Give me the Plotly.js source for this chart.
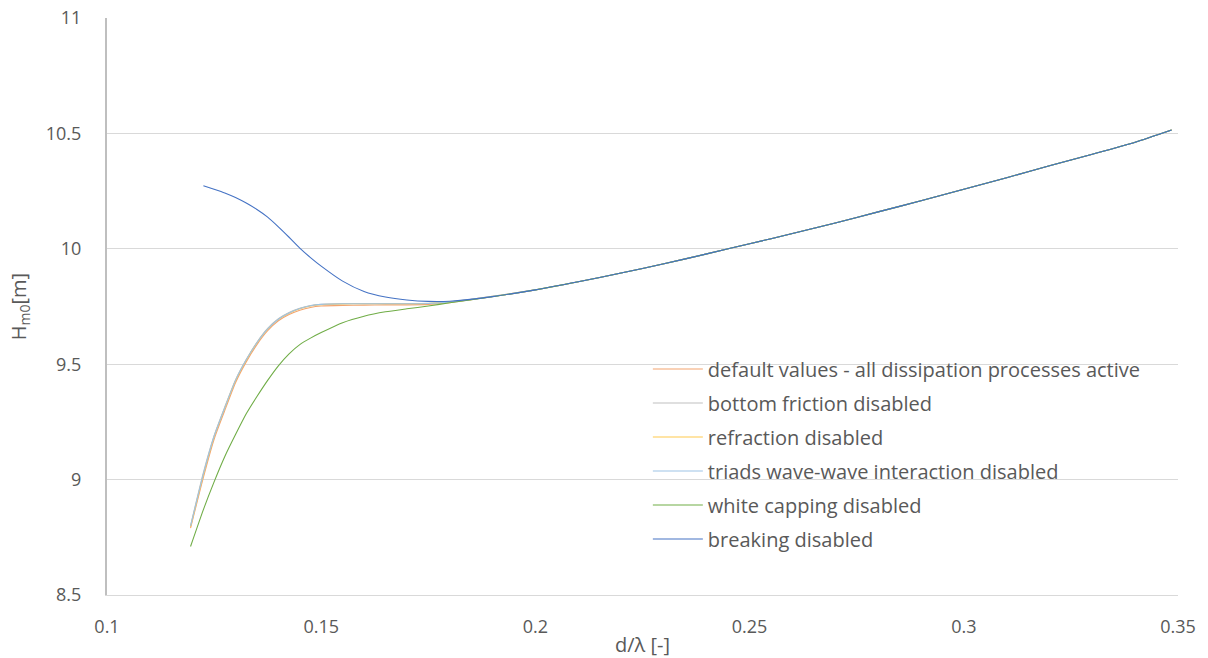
<!DOCTYPE html>
<html>
<head>
<meta charset="utf-8">
<script src="https://cdn.plot.ly/plotly-3.0.1.min.js"></script>
<style>html,body{margin:0;padding:0;background:#fff;}#chart{width:1208px;height:658px;}</style>
</head>
<body>
<div id="chart"></div>
<script>
// shared d/lambda values for the shallow part (rising / falling section)
const xShallow = [0.1195, 0.1225, 0.125, 0.1275, 0.13, 0.1325, 0.135, 0.1375, 0.14, 0.1425, 0.145, 0.1475, 0.15, 0.155, 0.16, 0.165, 0.17, 0.175, 0.18, 0.19];
// common d/lambda values for the deeper part where all curves coincide
const xDeep = [0.2, 0.21, 0.22, 0.23, 0.24, 0.25, 0.26, 0.27, 0.28, 0.29, 0.30, 0.31, 0.32, 0.33, 0.34, 0.3485];
const hDeep = [9.822, 9.857, 9.895, 9.935, 9.978, 10.022, 10.066, 10.112, 10.160, 10.208, 10.258, 10.308, 10.360, 10.410, 10.462, 10.515];

const hDefault   = [8.79, 9.01, 9.175, 9.30, 9.42, 9.51, 9.585, 9.645, 9.688, 9.715, 9.734, 9.746, 9.752, 9.755, 9.756, 9.757, 9.757, 9.759, 9.767, 9.793];
const hBottom    = [8.80, 9.03, 9.19, 9.315, 9.432, 9.52, 9.595, 9.655, 9.697, 9.724, 9.742, 9.754, 9.760, 9.763, 9.763, 9.763, 9.763, 9.764, 9.770, 9.794];
const hRefract   = [8.795, 9.02, 9.185, 9.31, 9.428, 9.517, 9.592, 9.652, 9.694, 9.721, 9.740, 9.752, 9.758, 9.761, 9.762, 9.762, 9.762, 9.763, 9.769, 9.794];
const hTriads    = [8.798, 9.025, 9.188, 9.312, 9.43, 9.519, 9.593, 9.653, 9.695, 9.722, 9.741, 9.753, 9.759, 9.762, 9.762, 9.762, 9.762, 9.763, 9.769, 9.794];
const hWhiteCap  = [8.71, 8.87, 8.99, 9.10, 9.195, 9.285, 9.36, 9.43, 9.493, 9.545, 9.585, 9.613, 9.637, 9.68, 9.708, 9.727, 9.74, 9.752, 9.766, 9.792];
const xBreaking  = [0.1225, 0.125, 0.1275, 0.13, 0.1325, 0.135, 0.1375, 0.14, 0.1425, 0.145, 0.1475, 0.15, 0.155, 0.16, 0.165, 0.17, 0.175, 0.18, 0.19];
const hBreaking  = [10.273, 10.258, 10.242, 10.222, 10.198, 10.17, 10.137, 10.095, 10.05, 10.003, 9.962, 9.925, 9.86, 9.815, 9.791, 9.778, 9.772, 9.773, 9.793];

const seriesNames = [
  "default values - all dissipation processes active",
  "bottom friction disabled",
  "refraction disabled",
  "triads wave-wave interaction disabled",
  "white capping disabled",
  "breaking disabled"
];
const seriesColors = ["#F4A46E", "#BFBFBF", "#FFC94D", "#9DC3E6", "#70AD47", "#4472C4"];

const xTickVals = [0.1, 0.15, 0.2, 0.25, 0.3, 0.35];
const xTickText = ["0.1", "0.15", "0.2", "0.25", "0.3", "0.35"];
const yTickVals = [8.5, 9, 9.5, 10, 10.5, 11];
const yTickText = ["8.5", "9", "9.5", "10", "10.5", "11"];

const xs = [xShallow, xShallow, xShallow, xShallow, xShallow, xBreaking];
const hs = [hDefault, hBottom, hRefract, hTriads, hWhiteCap, hBreaking];

const traces = seriesNames.map((n, i) => ({
  type: "scatter",
  mode: "lines",
  name: n,
  legendgroup: "g" + i,
  x: xs[i].concat(xDeep),
  y: hs[i].concat(hDeep),
  line: {color: seriesColors[i], width: 1.1, shape: "spline", smoothing: 0.6},
  hoverinfo: "x+y+name"
}));

const font = "'Open Sans', Lato, sans-serif";
const layout = {
  width: 1208, height: 658,
  margin: {l: 107, r: 30, t: 18, b: 63},
  paper_bgcolor: "#ffffff",
  plot_bgcolor: "#ffffff",
  font: {family: font, color: "#595959", size: 18},
  showlegend: true,
  legend: {
    x: 0.505, y: 0.4255, xanchor: "left", yanchor: "top",
    bgcolor: "rgba(255,255,255,0)",
    font: {family: font, size: 20, color: "#595959"},
    traceorder: "grouped",
    tracegroupgap: 5,
    itemwidth: 50
  },
  xaxis: {
    range: [0.1, 0.35],
    tickvals: xTickVals, ticktext: xTickText,
    showgrid: false, zeroline: false,
    showline: true, linecolor: "#d9d9d9", linewidth: 1,
    ticks: "", ticklabelstandoff: 15,
    tickfont: {size: 18, color: "#595959"},
    title: {text: "d/λ [-]", font: {size: 20, color: "#595959"}, standoff: 2}
  },
  yaxis: {
    range: [8.5, 11],
    tickvals: yTickVals, ticktext: yTickText,
    showgrid: true, gridcolor: "#d9d9d9", gridwidth: 1,
    zeroline: false,
    showline: true, linecolor: "#bfbfbf", linewidth: 2,
    ticks: "", ticklabelstandoff: 20,
    tickfont: {size: 18, color: "#595959"},
    title: {text: "H<sub>m0</sub>[m]", font: {size: 20, color: "#595959"}, standoff: 14}
  }
};

Plotly.newPlot("chart", traces, layout, {displayModeBar: false, staticPlot: true});
</script>
</body>
</html>
